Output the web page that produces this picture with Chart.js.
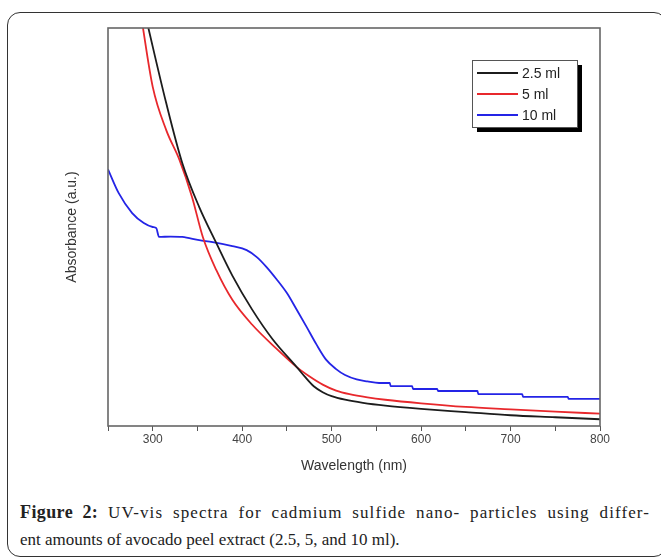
<!DOCTYPE html>
<html>
<head>
<meta charset="utf-8">
<script src="https://cdn.jsdelivr.net/npm/chart.js@4/dist/chart.umd.min.js"></script>
<style>
  html, body { margin: 0; padding: 0; background: #fff; }
  body { width: 661px; height: 560px; position: relative; overflow: hidden; }
  .card { position: absolute; left: 7px; top: 12px; width: 660px; height: 545px;
          border: 1.5px solid #333; border-radius: 13px; box-sizing: border-box; }
  #wrap { position: absolute; left: 0; top: 0; width: 661px; height: 490px; }
  .caption { position: absolute; left: 20px; width: 630px; font-family: "Liberation Serif", serif;
             font-size: 17px; color: #222; line-height: 28px; }
  .l1 { top: 498px; text-align: justify; text-align-last: justify; letter-spacing: 1.1px; }
  .l1 b { font-size: 18px; letter-spacing: 0.4px; }
  .l2 { top: 526px; }
</style>
</head>
<body>
<div class="card"></div>
<div id="wrap"><canvas id="uvChart" width="661" height="490"></canvas></div>
<div class="caption l1"><b>Figure 2:</b> UV-vis spectra for cadmium sulfide nano- particles using differ-</div>
<div class="caption l2">ent amounts of avocado peel extract (2.5, 5, and 10 ml).</div>

<script>
// series (absorbance in arbitrary units, 0..1 of the frame)
const labels = ['2.5 ml', '5 ml', '10 ml'];
const colors = ['#1c1c1c', '#e8282c', '#2424e6'];

const wl25 = [292, 315, 333, 352, 371, 389, 411, 434, 461, 470, 480, 490, 500, 515, 535, 560, 600, 650, 700, 750, 800];
const abs25 = [1.03, 0.812, 0.661, 0.550, 0.460, 0.378, 0.293, 0.218, 0.148, 0.124, 0.100, 0.085, 0.075, 0.066, 0.058, 0.051, 0.043, 0.035, 0.027, 0.022, 0.017];

const wl5 = [287, 300, 315, 330, 344, 356, 371, 389, 411, 438, 461, 475, 490, 505, 520, 540, 560, 600, 650, 700, 750, 800];
const abs5 = [1.03, 0.852, 0.744, 0.668, 0.575, 0.475, 0.392, 0.317, 0.255, 0.195, 0.148, 0.125, 0.104, 0.089, 0.080, 0.072, 0.066, 0.057, 0.048, 0.042, 0.036, 0.031];

const wl10 = [250, 262, 277, 290, 300, 304, 307, 320, 333, 352, 367, 389, 405, 416, 427, 438, 450, 461, 472, 483, 494, 505, 515, 528, 540,
              553, 565, 566, 590, 591, 618, 619, 663, 664, 713, 714, 764, 765, 800];
const abs10 = [0.645, 0.585, 0.535, 0.510, 0.500, 0.497, 0.475, 0.476, 0.475, 0.467, 0.462, 0.452, 0.442, 0.425, 0.400, 0.370, 0.334, 0.292, 0.249, 0.205, 0.166, 0.143, 0.128, 0.117, 0.112,
               0.108, 0.108, 0.100, 0.100, 0.093, 0.093, 0.088, 0.088, 0.080, 0.080, 0.073, 0.073, 0.068, 0.068];

const xTicks = [300, 400, 500, 600, 700, 800];

function pairs(xs, ys) {
  return xs.map((x, i) => ({ x: x, y: ys[i] }));
}

const frame = {
  id: 'frame',
  afterDatasetsDraw(chart) {
    const { ctx, chartArea: a } = chart;
    ctx.save();
    ctx.strokeStyle = '#666';
    ctx.lineWidth = 1.6;
    ctx.strokeRect(a.left, a.top, a.right - a.left, a.bottom - a.top);
    ctx.restore();
  }
};

// boxed legend with a drop shadow, like the original figure
const boxLegend = {
  id: 'boxLegend',
  afterDraw(chart) {
    const ctx = chart.ctx;
    const x = 472, y = 60, w = 105, h = 67;
    ctx.save();
    ctx.fillStyle = '#000';
    ctx.fillRect(x + 5, y + 5, w, h);
    ctx.fillStyle = '#fff';
    ctx.fillRect(x, y, w, h);
    ctx.strokeStyle = '#555';
    ctx.lineWidth = 1;
    ctx.strokeRect(x + 0.5, y + 0.5, w, h);
    ctx.font = '14px "Liberation Sans", Arial, sans-serif';
    ctx.textBaseline = 'middle';
    chart.data.datasets.forEach((ds, i) => {
      const ry = y + 13 + i * 21;
      ctx.strokeStyle = ds.borderColor;
      ctx.lineWidth = 2;
      ctx.beginPath();
      ctx.moveTo(x + 5, ry);
      ctx.lineTo(x + 46, ry);
      ctx.stroke();
      ctx.fillStyle = '#222';
      ctx.fillText(ds.label, x + 50, ry + 1);
    });
    ctx.restore();
  }
};

new Chart(document.getElementById('uvChart').getContext('2d'), {
  type: 'line',
  data: {
    datasets: [
      { label: labels[0], data: pairs(wl25, abs25), borderColor: colors[0] },
      { label: labels[1], data: pairs(wl5, abs5), borderColor: colors[1] },
      { label: labels[2], data: pairs(wl10, abs10), borderColor: colors[2] }
    ]
  },
  options: {
    responsive: false,
    animation: false,
    layout: { padding: { left: 55, top: 28, right: 61, bottom: 10 } },
    elements: {
      point: { radius: 0 },
      line: { borderWidth: 1.8, cubicInterpolationMode: 'monotone' }
    },
    plugins: { legend: { display: false }, tooltip: { enabled: false } },
    scales: {
      x: {
        type: 'linear', min: 250, max: 800,
        afterFit(s) { s.height = 54; },
        grid: { display: true, drawOnChartArea: false, drawTicks: true, tickLength: 5, color: '#555' },
        border: { display: false },
        ticks: {
          stepSize: 50, autoSkip: false, maxRotation: 0, padding: 1,
          color: '#444', font: { family: '"Liberation Sans", Arial, sans-serif', size: 12 },
          callback: v => xTicks.includes(v) ? String(v) : ''
        },
        title: { display: true, text: 'Wavelength (nm)', color: '#333',
                 font: { family: '"Liberation Sans", Arial, sans-serif', size: 14 }, padding: { bottom: 5.6 } }
      },
      y: {
        min: 0, max: 1,
        afterFit(s) { s.width = 53; },
        grid: { display: false },
        border: { display: false },
        ticks: { display: false },
        title: { display: true, text: 'Absorbance (a.u.)', color: '#333',
                 font: { family: '"Liberation Sans", Arial, sans-serif', size: 14 }, padding: { top: 8.6 } }
      }
    }
  },
  plugins: [frame, boxLegend]
});
</script>
</body>
</html>
